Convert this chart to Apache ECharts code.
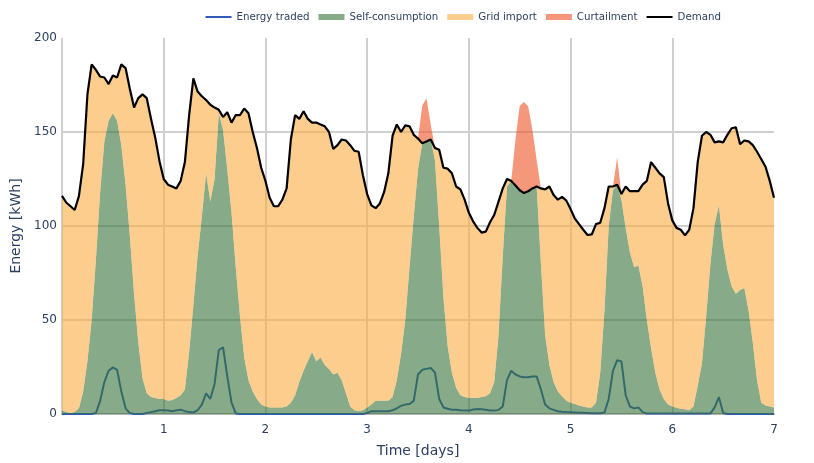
<!DOCTYPE html>
<html>
<head>
<meta charset="utf-8">
<script src="https://cdn.jsdelivr.net/npm/echarts@6/dist/echarts.min.js"></script>
<style>
  html, body { margin: 0; padding: 0; background: #ffffff; }
  #chart { width: 814px; height: 463px; }
</style>
</head>
<body>
<div id="chart"></div>
<script>
// Hourly energy balance over one week (169 samples, hour 0 .. hour 168).
const STEPS_PER_DAY = 24;

const demand = [].concat(
  [116,112.5,110.5,108.5,116,133,170,186,183,179.5,179,175.5,180,179,186,184,173,163,168,170,168,157,147,134.5],
  [125,122,121,120,124,134,159,178.5,171.5,169,167,164.5,163,161.8,158,160.5,155,159,159,162.5,160,150,141.5,131],
  [124,115,110.5,110.5,114,120,146,159,157,161,157,155,155,154,153,150,141,143,146,145.5,143,140,139.5,127],
  [117,111,109.5,112,118,128,148,154,150,153.5,153,148.5,146.5,144,145,146,141.5,140.5,131,130.5,128,121,119.5,114],
  [107,102.5,99,96.5,97,102,106,113,120,125,124,121.5,119,117.5,118.5,120,121,120,119.5,121,116.5,114,115.5,113.5],
  [109,104,101,98,95.2,95.5,101,101.7,109.5,121,121,122,117,121,118.5,118.5,118.5,122,124,134,131,128,126,112],
  [103,99,98,95,98,109.5,134,148,150,148.5,144.5,145,144.5,148.5,152,152.5,143.5,145.5,145,143,139.5,135.5,131.5,124],
  [115]
);

const selfConsumption = [].concat(
  [2,1,0.5,1,3,12,28,50,82,118,145,156,160,156,143,122,95,64,38,19,11,9,8.5,8],
  [8,7,7.5,8.5,10,13,33,58,84,105,128,113,125,160,151,130,107,78,52,30,18,12,8,5],
  [4,3.5,3.5,3.5,3.5,4,6,10,17,23,28,33,28,30,26,24,21,22,18,11,4,2,1.5,2],
  [3.5,5,7,7,7,7,9,18,32,50,78,105,130,144,145,146,135,100,62,36,22,14,10,9],
  [8.5,8.5,8.5,9,9.5,11,17,42,84,121,124,121.5,119,117.5,118.5,120,121,80,42,26,17,12,9.5,7],
  [6,5.3,4.5,4,3.5,3.5,6,22,55,100,119,122,114,99,86,78,79,68,50,35,22,13,8,5],
  [4,3.3,2.8,2.5,2,4,15,27,52,80,101,111,90,77,68,64,66,67,55,38,18,6,4.5,4],
  [3.5]
);

const curtailment = [].concat(
  [0,0,0,0,0,0,0,0,0,0,0,0,0,0,0,0,0,0,0,0,0,0,0,0],
  [0,0,0,0,0,0,0,0,0,0,0,0,0,0,0,0,0,0,0,0,0,0,0,0],
  [0,0,0,0,0,0,0,0,0,0,0,0,0,0,0,0,0,0,0,0,0,0,0,0],
  [0,0,0,0,0,0,0,0,0,0,0,0,0,20,23,8,0,0,0,0,0,0,0,0],
  [0,0,0,0,0,0,0,0,0,0,0,24.5,45,48.5,45,31,14,0,0,0,0,0,0,0],
  [0,0,0,0,0,0,0,0,0,0,0,14.5,0,0,0,0,0,0,0,0,0,0,0,0],
  [0,0,0,0,0,0,0,0,0,0,0,0,0,0,0,0,0,0,0,0,0,0,0,0],
  [0]
);

const energyTraded = [].concat(
  [0,0,0,0,0,0,0,0,0.5,7,17,23,24.8,23.5,12,3,0.5,0,0,0,0.5,1,1.5,2],
  [2,1.8,1.5,2,2.3,1.5,1,0.8,2,5,11,8,16,34,35.5,20,6,0.3,0,0,0,0,0,0],
  [0,0,0,0,0,0,0,0,0,0,0,0,0,0,0,0,0,0,0,0,0,0,0,0],
  [0.5,1.5,1.5,1.5,1.5,1.5,2,3,4.4,5,5.3,7,21,23.5,24,24.5,22,8,3.5,2.8,2.3,2.2,2,1.9],
  [1.8,2.4,2.6,2.5,2.2,1.9,1.8,2.2,4,18,23,21,20,19.5,19.5,20,20,13,5,3,2.2,1.5,1.2,1],
  [0.9,0.8,0.7,0.6,0.5,0.4,0.4,0.4,0.8,8,23,28.6,28,10,4,3,3.5,1,0.3,0.3,0.3,0.3,0.3,0.3],
  [0.3,0.3,0.3,0.3,0.3,0.3,0.3,0.3,0.3,0.3,3.5,9,0.5,0,0,0,0,0,0,0,0,0,0,0],
  [0]
);

const seriesNames = ['Energy traded', 'Self-consumption', 'Grid import', 'Curtailment', 'Demand'];
const yTicks = { min: 0, max: 200, step: 50 };
const dayTicks = [1, 2, 3, 4, 5, 6, 7];

// One category per hour; day labels sit on every 24th hour.
const hours = demand.map((_, i) => i);
// Grid import fills the gap between self-consumption and demand.
const gridImport = demand.map((d, i) => Math.max(0, d - selfConsumption[i]));

const TEXT = '#2a3f5f';
const FONT = 'DejaVu Sans';
const GRID = '#d0d0d0';

const colors = {
  traded: '#2f5bb7',
  self: 'rgba(55,115,57,0.6)',
  grid: 'rgba(252,172,67,0.6)',
  curt: 'rgba(237,82,33,0.6)',
  demand: '#000000'
};

const LINE_ICON = 'path://M0,0H26V2H0Z';

function areaSeries(name, data, color) {
  return {
    name, type: 'line', stack: 'balance', data,
    symbol: 'none', showSymbol: false, smooth: false,
    lineStyle: { width: 0, color },
    itemStyle: { color },
    areaStyle: { color, opacity: 1 },
    emphasis: { disabled: true },
    silent: true, z: 2
  };
}

const isDayTick = i => i % STEPS_PER_DAY === 0;

const chart = echarts.init(document.getElementById('chart'), null, { renderer: 'canvas' });
chart.setOption({
  animation: false,
  backgroundColor: '#ffffff',
  textStyle: { fontFamily: FONT, color: TEXT },
  grid: { left: 62, right: 40, top: 38, bottom: 48, containLabel: false },
  legend: {
    top: 12, right: 93, padding: 0,
    itemWidth: 26, itemHeight: 6, itemGap: 9,
    itemStyle: { borderWidth: 0 },
    textStyle: { fontFamily: FONT, fontSize: 10.25, color: TEXT },
    data: [
      { name: seriesNames[0], icon: LINE_ICON },
      { name: seriesNames[1], icon: 'rect' },
      { name: seriesNames[2], icon: 'rect' },
      { name: seriesNames[3], icon: 'rect' },
      { name: seriesNames[4], icon: LINE_ICON }
    ]
  },
  xAxis: {
    type: 'category', data: hours, boundaryGap: false,
    name: 'Time [days]', nameLocation: 'middle', nameGap: 30,
    nameTextStyle: { fontFamily: FONT, fontSize: 14, color: TEXT },
    axisLine: { show: true, lineStyle: { color: '#b4b4b4', width: 2 } },
    axisTick: { show: false },
    axisLabel: {
      interval: (i) => isDayTick(i) && dayTicks.includes(i / STEPS_PER_DAY),
      formatter: (v) => String(Number(v) / STEPS_PER_DAY),
      color: TEXT, fontFamily: FONT, fontSize: 12, margin: 10
    },
    splitLine: {
      show: true,
      interval: (i) => isDayTick(i) && i < hours.length - 1,
      lineStyle: { color: GRID, width: 2 }
    }
  },
  yAxis: {
    type: 'value', min: yTicks.min, max: yTicks.max, interval: yTicks.step,
    name: 'Energy [kWh]', nameLocation: 'middle', nameGap: 29,
    nameTextStyle: { fontFamily: FONT, fontSize: 14, color: TEXT },
    axisLine: { show: false },
    axisTick: { show: false },
    axisLabel: { color: TEXT, fontFamily: FONT, fontSize: 12, margin: 5 },
    splitLine: { show: true, showMinLine: false, showMaxLine: false, lineStyle: { color: GRID, width: 2 } }
  },
  series: [
    {
      name: seriesNames[0], type: 'line', data: energyTraded,
      symbol: 'none', showSymbol: false,
      lineStyle: { width: 2, color: colors.traded },
      itemStyle: { color: colors.traded },
      silent: true, z: 1
    },
    areaSeries(seriesNames[1], selfConsumption, colors.self),
    areaSeries(seriesNames[2], gridImport, colors.grid),
    areaSeries(seriesNames[3], curtailment, colors.curt),
    {
      name: seriesNames[4], type: 'line', data: demand,
      symbol: 'none', showSymbol: false,
      lineStyle: { width: 2.2, color: colors.demand },
      itemStyle: { color: colors.demand },
      silent: true, z: 5
    }
  ]
});
</script>
</body>
</html>
